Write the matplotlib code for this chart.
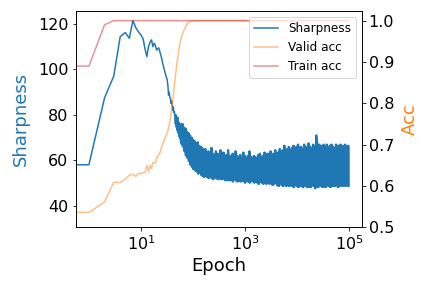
import numpy as np
import matplotlib
matplotlib.use("Agg")
import matplotlib.pyplot as plt

# ---- data ----
# early epochs (integer) sharpness
sharp_epochs_early = list(range(0, 61))
sharp_early = [58, 58, 87.5, 97, 114.4, 116.2, 113.7, 121.5, 118.3, 116.5,
               115.2, 113.5, 109, 105.6, 110, 112, 113, 110, 111.5, 110.5,
               108.5, 109, 109.5, 108, 106.5, 105, 103, 101.5, 100, 98.5,
               97.5, 96.5, 95.3, 93, 88.7, 90, 87.5, 87.3, 85, 86,
               84.3, 82, 83.5, 81, 81.4, 79.5, 76, 80, 74.5, 78.5,
               73, 79, 72, 77, 70.5, 76.5, 69.5, 75.5, 68, 76, 67]

# noisy band after epoch ~62: alternating highs and lows
sharp_hi = [76, 74.5, 74, 72.5, 72, 71, 70, 69,
            68.5, 67.5, 68, 66.5, 66, 65.5, 64.5,
            65, 63.5, 64, 63, 65.5, 63, 62.5, 64, 63, 62.5, 64.5,
            62.5, 63.5, 62, 62.5, 64.5, 62, 61.5, 63, 62, 64, 62,
            61.5, 62.5, 61, 63.5, 62, 61, 62, 64, 61.5, 61, 62,
            61.5, 61, 62.5, 63, 61.5, 62, 63.5, 62.5, 63,
            62, 64, 62.5, 63, 64.5, 63, 63.5, 65, 64, 64.5, 66.5, 64, 65, 66,
            64.5, 65.5, 66.5, 65, 66, 67, 65.5, 66, 65, 67, 66, 65.5, 67.5,
            66, 65.5, 67, 66, 71, 66.5, 67, 65.5, 66.5, 67,
            66, 67, 65.5, 66.5, 67, 66, 65.5, 67, 66.5, 66, 67, 65.5, 66.5, 67, 66, 66.5]
sharp_lo = [66, 64, 62, 61, 59.5, 58, 57, 56,
            55.5, 55, 54, 54.5, 53.5, 53, 52.5,
            53, 52.5, 52, 53, 52, 51.5, 52.5, 52, 51.5, 52, 51.5,
            51.5, 52, 51, 51.5, 51, 52, 51, 50.5, 51.5, 51, 50.5,
            51, 50.5, 51.5, 50.5, 50, 51, 50.5, 50, 51, 50.5, 50,
            50.5, 50, 49.5, 50.5, 50, 49.5, 50, 49.5, 50,
            49.5, 50, 49, 49.5, 50, 49, 48.5, 49.5, 49, 48.5, 49.5, 48.5, 49, 48.5,
            49, 48.5, 48, 49, 48.5, 48, 49, 48.5, 48, 48.5, 49, 48, 48.5,
            48, 49, 48.5, 47.5, 48.5, 48, 49, 48.5, 48, 48.5,
            48, 49, 48.5, 48, 49, 48.5, 48.5, 49, 48, 48.5, 49, 48.5, 49, 48.5, 49, 48.5]
band_first_epoch, band_last_epoch = 62, 1e5

acc_epochs = [0, 1, 2, 3, 4, 5, 6, 7, 8, 9, 10, 11, 12, 13, 14, 15, 16, 17, 18, 19,
              20, 21, 22, 23, 24, 25, 26, 27, 28, 29, 30, 31, 32, 33, 34, 35, 36, 37, 38, 39,
              40, 41, 42, 43, 44, 45, 46, 47, 48, 49, 50, 51, 52, 53, 54, 55, 56, 57, 58, 59,
              60, 65, 70, 75, 80, 90, 100, 1000, 10000, 100000]
valid_acc = [0.536, 0.536, 0.561, 0.609, 0.608, 0.617, 0.626, 0.628, 0.623, 0.630,
             0.630, 0.632, 0.633, 0.650, 0.634, 0.650, 0.642, 0.657, 0.656, 0.655,
             0.668, 0.672, 0.676, 0.678, 0.686, 0.694, 0.700, 0.705, 0.711, 0.715,
             0.720, 0.724, 0.729, 0.733, 0.741, 0.748, 0.755, 0.765, 0.775, 0.785,
             0.795, 0.810, 0.822, 0.834, 0.845, 0.855, 0.865, 0.875, 0.885, 0.895,
             0.903, 0.910, 0.918, 0.925, 0.932, 0.938, 0.944, 0.948, 0.952, 0.956,
             0.960, 0.972, 0.982, 0.989, 0.994, 0.998, 1.0, 1.0, 1.0, 1.0]
train_epochs = [0, 1, 2, 3, 10, 100, 1000, 10000, 100000]
train_acc = [0.89, 0.89, 0.99, 1.0, 1.0, 1.0, 1.0, 1.0, 1.0]

# ---- build the sharpness series ----
pair_epochs = np.geomspace(band_first_epoch, band_last_epoch, len(sharp_hi))
pairs = np.column_stack([sharp_hi, sharp_lo])
band_vals = np.repeat(pairs, 2, axis=0).ravel()
band_epochs = np.geomspace(band_first_epoch, band_last_epoch, len(band_vals))
sharp_x = np.concatenate([sharp_epochs_early, band_epochs])
sharp_y = np.concatenate([sharp_early, band_vals])

fig = plt.figure(figsize=(6, 4), dpi=72)
ax1 = fig.add_axes([0.175, 0.211, 0.662, 0.750])
ax2 = ax1.twinx()

# solid interior of the oscillation band, then the oscillating line itself
ax1.fill_between(pair_epochs, sharp_lo, sharp_hi, color='C0', lw=0)
l1, = ax1.plot(sharp_x, sharp_y, color='C0', lw=1.5, label='Sharpness')
l2, = ax2.plot(acc_epochs, valid_acc, color='C1', alpha=0.5, lw=1.5, label='Valid acc')
l3, = ax2.plot(train_epochs, train_acc, color='C3', alpha=0.5, lw=1.5, label='Train acc')

ax1.set_xscale('log')
ax1.set_xlim(10 ** -0.256, 10 ** 5.244)
ax1.set_ylim(30.5, 125.6)
ax2.set_ylim(0.5, 1.0228)
ax1.set_yticks([40, 60, 80, 100, 120])
ax2.set_yticks([0.5, 0.6, 0.7, 0.8, 0.9, 1.0])

ax1.tick_params(labelsize=16)
ax2.tick_params(labelsize=16)
ax1.set_xlabel('Epoch', fontsize=18)
ax1.set_ylabel('Sharpness', fontsize=18, color='C0', labelpad=8)
ax2.set_ylabel('Acc', fontsize=18, color='C1', labelpad=7)

ax2.legend(handles=[l1, l2, l3], loc='upper right', fontsize=12)

fig.savefig('out.png', dpi=72)
